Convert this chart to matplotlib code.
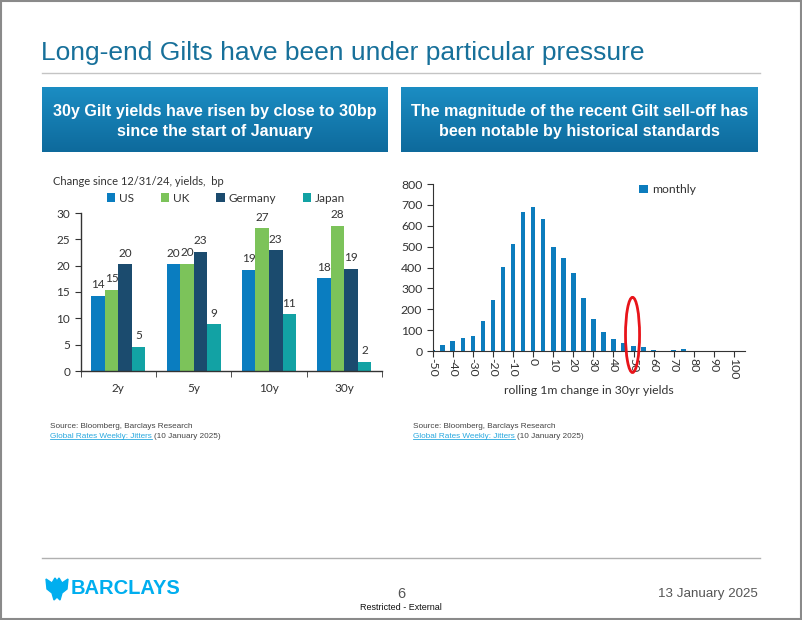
import matplotlib
matplotlib.use("Agg")
import matplotlib.pyplot as plt
import numpy as np
from matplotlib.patches import Rectangle, Ellipse, Polygon
from matplotlib import font_manager

W, H = 802, 620

# left chart: change since 12/31/24, bp
tenors = ["2y", "5y", "10y", "30y"]
us = [14.3, 20.3, 19.2, 17.6]
uk = [15.4, 20.4, 27.1, 27.6]
germany = [20.3, 22.6, 22.95, 19.4]
japan = [4.6, 8.9, 10.8, 1.7]

# right chart: histogram of rolling 1m change in 30yr yields
bins = [-50, -45, -40, -35, -30, -25, -20, -15, -10, -5, 0, 5, 10, 15, 20, 25,
        30, 35, 40, 45, 50, 55, 60, 65, 70, 75, 80, 85, 90, 95, 100]
monthly = [3, 28, 46, 62, 71, 145, 245, 403, 514, 664, 692, 630, 499, 447, 374, 254,
           152, 92, 59, 39, 22, 20, 7, 1, 4, 8, 1, 1, 1, 1, 0]

plt.rcParams["axes.unicode_minus"] = False

names = {f.name for f in font_manager.fontManager.ttflist}
NARROW = "Liberation Sans Narrow" if "Liberation Sans Narrow" in names else "Liberation Sans"
CHART = "Lato"

c_us, c_uk, c_de, c_jp = "#0a7dc0", "#7cc35a", "#1b4b6e", "#12a2a4"
c_hist = "#0c7cbd"
c_title = "#17709a"
c_text = "#333333"


def px(x, y):
    return x / W, 1 - y / H


def ax_rect(x0, y0, x1, y1):
    # pixel box (top-left origin) -> figure fraction rect
    return [x0 / W, 1 - y1 / H, (x1 - x0) / W, (y1 - y0) / H]


fig = plt.figure(figsize=(W / 100, H / 100), dpi=100)

# slide frame
fig.patches.append(Rectangle((0.001, 0.001), 0.998, 0.997, transform=fig.transFigure,
                             fill=False, edgecolor="#8a8a8a", lw=1.5))

# title + rules
fig.text(*px(41, 53), "Long-end Gilts have been under particular pressure", family=NARROW,
         fontsize=19, color=c_title, va="center", ha="left")
fig.add_artist(plt.Line2D([42 / W, 760 / W], [1 - 73 / H] * 2, color="#c4c4c4", lw=1))
fig.add_artist(plt.Line2D([42 / W, 760 / W], [1 - 558 / H] * 2, color="#b0b0b0", lw=1))

# gradient header boxes
grad = np.linspace(0, 1, 100).reshape(-1, 1)
cmap = matplotlib.colors.LinearSegmentedColormap.from_list("hdr", ["#1b8dc3", "#0e6a9c"])
headers = [((42, 87, 388, 152), "30y Gilt yields have risen by close to 30bp\nsince the start of January"),
           ((401, 87, 758, 152), "The magnitude of the recent Gilt sell-off has\nbeen notable by historical standards")]
for (x0, y0, x1, y1), txt in headers:
    hax = fig.add_axes(ax_rect(x0, y0, x1, y1))
    hax.imshow(grad, aspect="auto", cmap=cmap, extent=[0, 1, 0, 1], origin="upper")
    hax.set_axis_off()
    hax.text(0.5, 0.47, txt, transform=hax.transAxes, ha="center", va="center",
             color="white", fontweight="bold", family=NARROW, fontsize=11.6, linespacing=1.45)

# ---- left chart ----
ax1 = fig.add_axes(ax_rect(80.7, 213, 382, 371))
x = np.arange(len(tenors))
bw = 0.18
for i, (vals, col, lab) in enumerate([(us, c_us, "US"), (uk, c_uk, "UK"),
                                      (germany, c_de, "Germany"), (japan, c_jp, "Japan")]):
    bars = ax1.bar(x + (i - 1.5) * bw, vals, bw, color=col, label=lab)
    ax1.bar_label(bars, fmt="{:.0f}", padding=4, fontsize=8.5, color=c_text, family=CHART)
ax1.set_xlim(-0.5, len(tenors) - 0.5)
ax1.set_ylim(0, 30)
ax1.set_yticks(range(0, 31, 5))
ax1.set_xticks(x)
ax1.set_xticklabels(tenors)
ax1.set_xticks(np.arange(-0.5, len(tenors), 1), minor=True)
ax1.tick_params(axis="x", which="major", length=0, pad=9)
ax1.tick_params(axis="x", which="minor", length=4, direction="out", color="#333333")
ax1.tick_params(axis="y", length=4, direction="out", color="#333333")
for t in ax1.get_xticklabels() + ax1.get_yticklabels():
    t.set_family(CHART)
    t.set_fontsize(8.5)
    t.set_color(c_text)
for s in ["top", "right"]:
    ax1.spines[s].set_visible(False)
for s in ["left", "bottom"]:
    ax1.spines[s].set_color("#333333")
    ax1.spines[s].set_linewidth(1)
fig.text(*px(53, 182), "Change since 12/31/24, yields,  bp", family=CHART, fontsize=8,
         color=c_text, va="center")
ax1.legend(ncol=4, loc="center left", bbox_to_anchor=px(107, 198),
           bbox_transform=fig.transFigure, frameon=False, prop={"family": CHART, "size": 8.5},
           handlelength=0.7, handleheight=0.7, handletextpad=0.35, columnspacing=2.25,
           borderpad=0, borderaxespad=0, labelcolor=c_text)

# ---- right chart ----
ax2 = fig.add_axes(ax_rect(432.7, 184, 745, 351))
ax2.bar(bins, monthly, width=2.3, color=c_hist, label="monthly")
ax2.set_xlim(-50, 105.5)
ax2.set_ylim(0, 800)
ax2.set_yticks(range(0, 801, 100))
ax2.set_xticks(range(-50, 101, 10))
ax2.tick_params(axis="x", length=4, direction="out", color="#333333", pad=1)
ax2.tick_params(axis="y", length=4, direction="out", color="#333333")
for t in ax2.get_xticklabels():
    t.set_rotation(-90)
for t in ax2.get_xticklabels() + ax2.get_yticklabels():
    t.set_family(CHART)
    t.set_fontsize(8.8)
    t.set_color(c_text)
for s in ["top", "right"]:
    ax2.spines[s].set_visible(False)
for s in ["left", "bottom"]:
    ax2.spines[s].set_color("#333333")
ax2.set_xlabel("rolling 1m change in 30yr yields", family=CHART, fontsize=8.8,
               color=c_text, labelpad=4)
ax2.legend(loc="center left", bbox_to_anchor=px(639, 190), bbox_transform=fig.transFigure,
           frameon=False, prop={"family": CHART, "size": 8.8}, handlelength=0.7,
           handleheight=0.7, handletextpad=0.35, borderpad=0, borderaxespad=0,
           labelcolor=c_text)
ax2.add_patch(Ellipse((49.5, 77), 7, 360, fill=False, edgecolor="#e8141a", lw=2,
                      clip_on=False, zorder=5))

# ---- sources ----
fig.canvas.draw()
renderer = fig.canvas.get_renderer()
for sx in (50, 413):
    fig.text(*px(sx, 426), "Source: Bloomberg, Barclays Research", family=NARROW,
             fontsize=5.9, color="#444444", va="center")
    link = fig.text(*px(sx, 436), "Global Rates Weekly: Jitters", family=NARROW,
                    fontsize=5.9, color="#29a8df", va="center")
    bb = link.get_window_extent(renderer)
    fig.text(bb.x1 / W + 2 / W, 1 - 436 / H, "(10 January 2025)", family=NARROW,
             fontsize=5.9, color="#444444", va="center")
    fig.add_artist(plt.Line2D([bb.x0 / W, bb.x1 / W], [bb.y0 / H + 0.5 / H] * 2,
                              color="#29a8df", lw=0.6))

# ---- footer ----
fig.text(*px(401, 594), "6", family=NARROW, fontsize=10.5, color="#555555",
         ha="center", va="center")
fig.text(*px(401, 608), "Restricted - External", family=NARROW, fontsize=6.5,
         color="#111111", ha="center", va="center")
fig.text(*px(758, 594), "13 January 2025", family=NARROW, fontsize=9.6, color="#555555",
         ha="right", va="center")
fig.text(*px(71, 588), "BARCLAYS", family="Liberation Sans", fontweight="bold",
         fontsize=14.5, color="#00aeef", va="center")
# simple eagle emblem
eagle = [(46, 579), (52, 583), (55, 578), (57, 581), (59, 578), (62, 583), (68, 579),
         (67, 589), (62, 593), (60, 600), (57, 597), (54, 600), (52, 593), (47, 589)]
fig.patches.append(Polygon([px(a, b) for a, b in eagle], closed=True,
                           transform=fig.transFigure, color="#00aeef"))

fig.savefig("out.png", dpi=100)
